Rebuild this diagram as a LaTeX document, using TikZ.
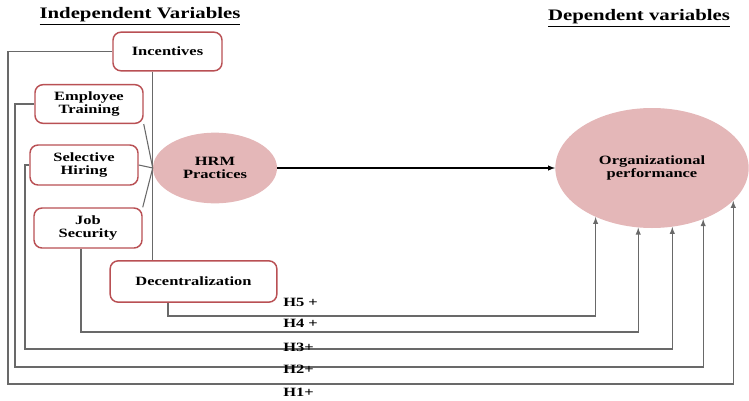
\documentclass[tikz,border=0pt]{standalone}
\usepackage{fontspec}
\setmainfont{Liberation Serif}[FakeStretch=1.3]
\usetikzlibrary{shapes.geometric,calc,positioning}
\definecolor{boxred}{RGB}{185,80,84}
\definecolor{pinkfill}{RGB}{228,183,184}
\definecolor{linegray}{RGB}{105,105,105}
\tikzset{
  varbox/.style={draw=boxred,line width=1.1pt,rounded corners=6pt,fill=white,align=center,minimum height=29pt,inner sep=2pt},
  blob/.style={ellipse,fill=pinkfill,align=center,inner sep=0pt},
  link/.style={draw=linegray,line width=0.8pt},
  hyp/.style={anchor=west,inner sep=0pt}
}

\begin{document}
\begin{tikzpicture}[x=0.75pt,y=-0.75pt,font=\fontsize{9.5}{10}\selectfont\bfseries]
    \useasboundingbox (0,0) rectangle (749,400);
    \node (indep) at (140,16) {\fontsize{12}{13}\selectfont\underline{Independent Variables}};
    \node (dep) at (639,18) {\fontsize{12}{13}\selectfont\underline{Dependent variables}};

    \node[varbox,minimum width=81.75pt] (inc) at (167.5,51.5) {Incentives};
    \node[varbox,minimum width=81pt] (empl) at (89,104) {Employee\\Training};
    \node[varbox,minimum width=81pt,minimum height=30pt] (hire) at (84,165) {Selective\\Hiring};
    \node[varbox,minimum width=81pt,minimum height=30pt] (jobsec) at (88,228) {Job\\Security};
    \node[varbox,minimum width=125pt,minimum height=31pt] (decen) at (193.5,281.5) {Decentralization};
    \node[blob,minimum width=93pt,minimum height=53pt] (hrm) at (215,168) {HRM\\Practices};
    \node[blob,minimum width=145pt,minimum height=90pt] (orgperf) at (652,168) {Organizational\\performance};

    \draw[link] (inc.south -| hrm.west) -- (decen.north -| hrm.west);
    \draw[link] (empl.south east) -- (hrm.west);
    \draw[link] (hire.east) -- (hrm.west);
    \draw[link] (jobsec.north east) -- (hrm.west);
    \draw[line width=0.8pt,-latex] (hrm) -- (orgperf);

    \coordinate (rail1) at (8,384);
    \coordinate (rail2) at (15,367);
    \coordinate (rail3) at (25,349);
    \coordinate (rail4) at (81,332);
    \coordinate (rail5) at (168,316);
    \draw[link,-latex] (inc.west) -| (rail1) -| (orgperf.-22);
    \draw[link,-latex] (empl.west) -| (rail2) -| (orgperf.-45);
    \draw[link,-latex] (hire.west) -| (rail3) -| (orgperf.-71);
    \draw[link,-latex] (jobsec.south -| rail4) -- (rail4) -| (orgperf.-103);
    \draw[link,-latex] (decen.south -| rail5) -- (rail5) -| (orgperf.-139);

    \node[hyp] (h5) at (283,302) {H5 +};
    \node[hyp] (h4) at (283,323) {H4 +};
    \node[hyp] (h3) at (283,347) {H3+};
    \node[hyp] (h2) at (283,369) {H2+};
    \node[hyp] (h1) at (283,392) {H1+};
\end{tikzpicture}
\end{document}
